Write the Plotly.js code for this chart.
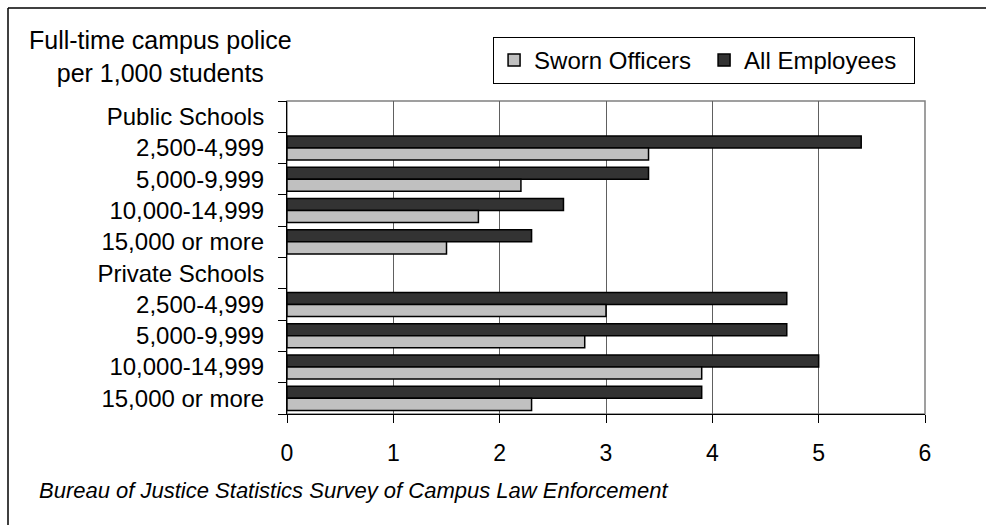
<!DOCTYPE html>
<html>
<head>
<meta charset="utf-8">
<script src="https://cdn.plot.ly/plotly-3.0.1.min.js"></script>
<style>html,body{margin:0;padding:0;background:#fff;}#chart{width:986px;height:525px;}</style>
</head>
<body>
<div id="chart"></div>
<script>
// ---- data ----
const groups = ["Public Schools", "Private Schools"];
const sizes = ["2,500-4,999", "5,000-9,999", "10,000-14,999", "15,000 or more"];
const swornPublic = [3.4, 2.2, 1.8, 1.5];
const allPublic = [5.4, 3.4, 2.6, 2.3];
const swornPrivate = [3.0, 2.8, 3.9, 2.3];
const allPrivate = [4.7, 4.7, 5.0, 3.9];
const xTicks = [0, 1, 2, 3, 4, 5, 6];
const seriesNames = ["Sworn Officers", "All Employees"];
const titleText = "Full-time campus police<br>per 1,000 students";
const sourceText = "Bureau of Justice Statistics Survey of Campus Law Enforcement";

// ---- build rows ----
const ids = [], labels = [], sworn = [], all = [];
const swornByGroup = [swornPublic, swornPrivate];
const allByGroup = [allPublic, allPrivate];
groups.forEach((g, gi) => {
  ids.push(g); labels.push(g); sworn.push(null); all.push(null);
  sizes.forEach((s, si) => {
    ids.push(g + "|" + s); labels.push(s);
    sworn.push(swornByGroup[gi][si]); all.push(allByGroup[gi][si]);
  });
});

const FONT = "Liberation Sans, Arial, sans-serif";

const traces = [
  {type: "bar", orientation: "h", name: seriesNames[1], y: ids, x: all,
   marker: {color: "#333333", line: {color: "#000000", width: 1.5}}, hoverinfo: "x"},
  {type: "bar", orientation: "h", name: seriesNames[0], y: ids, x: sworn,
   marker: {color: "#c0c0c0", line: {color: "#000000", width: 1.5}}, hoverinfo: "x"}
];

const layout = {
  width: 986, height: 525,
  margin: {l: 287, r: 61, t: 101, b: 111, autoexpand: false},
  paper_bgcolor: "#ffffff", plot_bgcolor: "#ffffff",
  font: {family: FONT, size: 23, color: "#000000"},
  barmode: "group", bargap: 0.23, bargroupgap: 0,
  showlegend: true,
  legend: {orientation: "h", traceorder: "reversed", x: 0.323, y: 1.2045,
           xanchor: "left", yanchor: "top", bordercolor: "#000000", borderwidth: 1,
           entrywidth: 165, entrywidthmode: "pixels",
           font: {family: FONT, size: 24}, bgcolor: "#ffffff"},
  xaxis: {range: [0, 6], tickvals: xTicks, ticks: "outside", ticklen: 8, tickcolor: "#000",
          showgrid: true, gridcolor: "#606060", gridwidth: 1, zeroline: false,
          showline: true, linecolor: "#000", linewidth: 1,
          tickfont: {size: 23}, ticklabelstandoff: 10, fixedrange: true},
  yaxis: {type: "category", categoryorder: "array", categoryarray: ids,
          autorange: "reversed", tickmode: "array", tickvals: ids, ticktext: labels,
          tickson: "boundaries", ticks: "outside", ticklen: 8, tickcolor: "#000",
          showgrid: false, showline: true, linecolor: "#000", linewidth: 1,
          tickfont: {size: 24}, ticklabelstandoff: 17, fixedrange: true},
  shapes: [
    {type: "rect", xref: "paper", yref: "paper", x0: 0, x1: 1, y0: 0, y1: 1,
     line: {color: "#808080", width: 1.5}, layer: "below"},
    {type: "line", xref: "paper", yref: "paper", x0: -0.4373, x1: 1.2, y0: 1.2971, y1: 1.2971,
     line: {color: "#000", width: 1.5}},
    {type: "line", xref: "paper", yref: "paper", x0: -0.4373, x1: -0.4373, y0: -0.5, y1: 1.2971,
     line: {color: "#000", width: 1.5}}
  ],
  annotations: [
    {text: titleText, xref: "paper", yref: "paper", x: -0.199, y: 1.1406,
     xanchor: "center", yanchor: "middle", align: "center", showarrow: false,
     font: {family: FONT, size: 25}},
    {text: "<i>" + sourceText + "</i>", xref: "paper", yref: "paper", x: -0.3918, y: -0.2460,
     xanchor: "left", yanchor: "middle", showarrow: false,
     font: {family: FONT, size: 22}}
  ]
};

Plotly.newPlot("chart", traces, layout, {displayModeBar: false, staticPlot: true});
</script>
</body>
</html>
